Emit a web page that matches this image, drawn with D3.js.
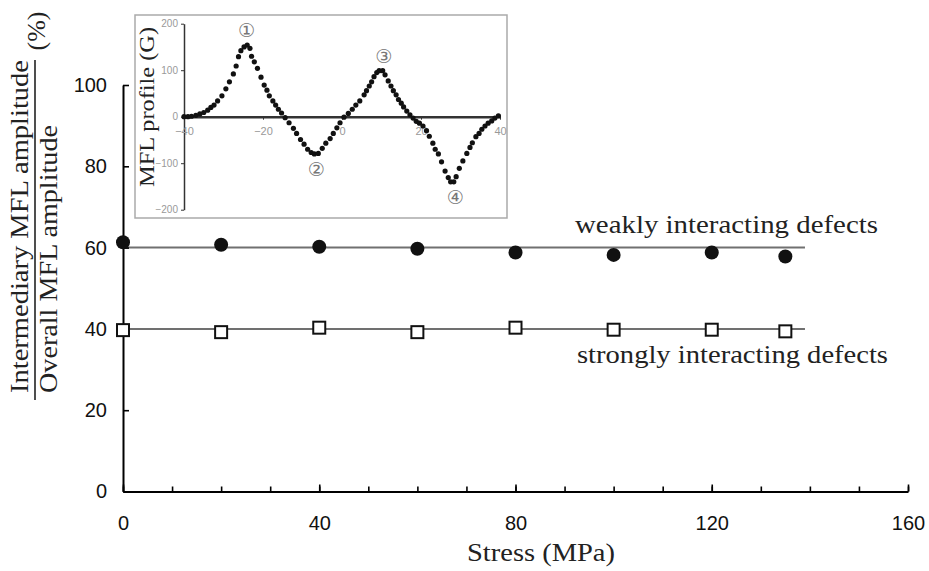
<!DOCTYPE html>
<html><head><meta charset="utf-8">
<script src="https://cdn.jsdelivr.net/npm/d3@7"></script>
<style>body{margin:0;background:#fff} svg{display:block}</style>
</head><body><svg id="c" width="929" height="571"></svg>
<script>
// ---- main chart data ----
const stress = [0, 20, 40, 60, 80, 100, 120, 135];
const weakly = [61.3, 60.7, 60.2, 59.7, 58.8, 58.2, 58.8, 57.8];
const strongly = [39.7, 39.2, 40.3, 39.2, 40.3, 39.8, 39.8, 39.4];
const refLevels = [60, 40];
const refRange = [0, 139];
const xMajorTicks = [0, 40, 80, 120, 160];
const xMinorTicks = [0, 10, 20, 30, 40, 50, 60, 70, 80, 90, 100, 110, 120, 130, 140, 150, 160];
const yTicks = [0, 20, 40, 60, 80, 100];
const seriesLabels = ["weakly interacting defects", "strongly interacting defects"];

// ---- inset data (MFL profile) ----
const insetX = [-40,-39,-38.1,-37,-36,-35,-34,-33.2,-32.4,-31.5,-30.4,-29.4,-28.5,-27.5,-26.8,-26.2,-25.6,-24.8,-24,-23.3,-22.9,-22.2,-21.4,-20.5,-19.7,-19,-18.4,-17.5,-16.8,-16.1,-15.3,-14.4,-13.4,-12.3,-11.5,-10.5,-9.6,-8.7,-7.8,-7,-6,-5,-4.1,-3,-2.2,-1.3,-0.5,0.5,1.6,2.6,3.5,4.5,5.6,6.2,6.9,7.5,8.1,8.8,9.4,10.3,10.9,11.7,12.4,13,13.7,14.3,15,15.6,16.4,17.2,18,18.8,19.6,20.5,21.4,22.1,23,23.6,24.4,25.2,26.1,26.9,27.5,28.3,28.9,29.7,30.6,31.6,32.4,33,33.9,34.7,35.4,36.2,37,37.9,38.7,39.6];
const insetY = [0,0,1,3,6,9,14,20,25,34,45,60,75,92,109,129,142,150,154,147,130,118,104,85,68,57,45,34,25,16,8,-2,-13,-25,-36,-49,-59,-70,-77,-80,-79,-68,-57,-47,-36,-24,-13,-1,7,16,25,34,47,56,66,75,86,95,99,99,90,77,66,56,47,37,29,21,12,4,-3,-10,-14,-20,-30,-42,-57,-70,-80,-97,-117,-131,-140,-140,-129,-111,-95,-79,-66,-56,-43,-36,-27,-20,-14,-9,-3,2];
const insetXTicks = [-40, -20, 0, 20, 40];
const insetYTicks = [-200, -100, 0, 100, 200];
const peakLabels = ["\u2460", "\u2461", "\u2462", "\u2463"];
const peakX = [-24.2, -6.5, 10.6, 28.7];
const peakY = [154, -80, 99, -140];
const peakSide = [1, -1, 1, -1];

const SERIF = "'Liberation Serif','Times New Roman',serif";
const SANS = "'Liberation Sans',Arial,sans-serif";

const svg = d3.select("#c");

// ---- main scales ----
const x = d3.scaleLinear().domain([0, 160]).range([123, 908]);
const y = d3.scaleLinear().domain([0, 100]).range([491.5, 85]);

// reference lines
svg.append("g").selectAll("line").data(refLevels).join("line")
  .attr("x1", x(refRange[0])).attr("x2", x(refRange[1]))
  .attr("y1", d => y(d)).attr("y2", d => y(d))
  .attr("stroke", "#707070").attr("stroke-width", 2);

// axes
const gx = svg.append("g").attr("transform", `translate(0,${y(0)})`);
gx.call(d3.axisBottom(x).tickValues(xMinorTicks).tickSizeInner(-5).tickSizeOuter(0).tickFormat(""));
const gx2 = svg.append("g").attr("transform", `translate(0,${y(0)})`);
gx2.call(d3.axisBottom(x).tickValues(xMajorTicks).tickSizeInner(-7).tickSizeOuter(0).tickPadding(24).tickFormat(d3.format("d")));
[gx, gx2].forEach(g => {
  g.selectAll(".domain").attr("stroke", "#000").attr("stroke-width", 2);
  g.selectAll(".tick line").attr("stroke", "#000").attr("stroke-width", 1.6);
  g.selectAll("text").style("font-family", SANS).attr("font-size", 20).attr("fill", "#111");
});
gx2.select(".domain").remove();

const gy = svg.append("g").attr("transform", `translate(${x(0)},0)`);
gy.call(d3.axisLeft(y).tickValues(yTicks).tickSizeInner(-6).tickSizeOuter(0).tickPadding(16).tickFormat(d3.format("d")));
gy.selectAll(".domain").attr("stroke", "#000").attr("stroke-width", 2);
gy.selectAll(".tick line").attr("stroke", "#000").attr("stroke-width", 1.6);
gy.selectAll("text").style("font-family", SANS).attr("font-size", 20).attr("fill", "#111");

// markers
svg.append("g").selectAll("circle").data(stress).join("circle")
  .attr("cx", d => x(d)).attr("cy", (d, i) => y(weakly[i]))
  .attr("r", 7).attr("fill", "#111");
svg.append("g").selectAll("rect").data(stress).join("rect")
  .attr("x", d => x(d) - 6).attr("y", (d, i) => y(strongly[i]) - 6)
  .attr("width", 12).attr("height", 12)
  .attr("fill", "#fff").attr("stroke", "#111").attr("stroke-width", 2);

// series labels
svg.append("text").attr("x", 575).attr("y", 233).text(seriesLabels[0])
  .style("font-family", SERIF).attr("font-size", 25).attr("fill", "#222")
  .attr("textLength", 303).attr("lengthAdjust", "spacingAndGlyphs");
svg.append("text").attr("x", 577).attr("y", 363).text(seriesLabels[1])
  .style("font-family", SERIF).attr("font-size", 25).attr("fill", "#222")
  .attr("textLength", 311).attr("lengthAdjust", "spacingAndGlyphs");

// x title
svg.append("text").attr("x", 541).attr("y", 561).attr("text-anchor", "middle")
  .text("Stress (MPa)").style("font-family", SERIF).attr("font-size", 26).attr("fill", "#222")
  .attr("textLength", 148).attr("lengthAdjust", "spacingAndGlyphs");

// y title (fraction)
const yt = svg.append("g");
yt.append("text").attr("transform", "translate(28,393) rotate(-90)")
  .text("Intermediary MFL amplitude").style("font-family", SERIF).attr("font-size", 26).attr("fill", "#222")
  .attr("textLength", 333).attr("lengthAdjust", "spacingAndGlyphs");
yt.append("line").attr("x1", 35).attr("x2", 35).attr("y1", 400).attr("y2", 60)
  .attr("stroke", "#222").attr("stroke-width", 1.6);
yt.append("text").attr("transform", "translate(57,393) rotate(-90)")
  .text("Overall MFL amplitude").style("font-family", SERIF).attr("font-size", 26).attr("fill", "#222")
  .attr("textLength", 268).attr("lengthAdjust", "spacingAndGlyphs");
yt.append("text").attr("transform", "translate(45,31) rotate(-90)").attr("text-anchor", "middle")
  .text("(%)").style("font-family", SERIF).attr("font-size", 26).attr("fill", "#222");

// ---- inset ----
const inset = svg.append("g");
inset.append("rect").attr("x", 135).attr("y", 15).attr("width", 372).attr("height", 203)
  .attr("fill", "#fff").attr("stroke", "#aaa").attr("stroke-width", 1.5);
const ix = d3.scaleLinear().domain([-40, 40]).range([184, 500]);
const iy = d3.scaleLinear().domain([-200, 200]).range([209.7, 23.7]);

const igy = inset.append("g").attr("transform", `translate(${ix(-40)},0)`);
igy.call(d3.axisLeft(iy).tickValues(insetYTicks).tickSizeInner(3).tickSizeOuter(0).tickPadding(3).tickFormat(d3.format("d")));
igy.select(".domain").attr("stroke", "#333").attr("stroke-width", 1.5);
igy.selectAll(".tick line").attr("stroke", "#333");
igy.selectAll("text").style("font-family", SANS).attr("font-size", 10).attr("fill", "#999");

const igx = inset.append("g").attr("transform", `translate(0,${iy(0)})`);
igx.call(d3.axisBottom(ix).tickValues(insetXTicks).tickSizeInner(3).tickSizeOuter(0).tickPadding(8).tickFormat(d3.format("d")));
igx.select(".domain").attr("stroke", "#333").attr("stroke-width", 2.5);
igx.selectAll(".tick line").attr("stroke", "#333");
igx.selectAll("text").style("font-family", SANS).attr("font-size", 11).attr("fill", "#999");

inset.append("g").selectAll("circle").data(insetX).join("circle")
  .attr("cx", d => ix(d)).attr("cy", (d, i) => iy(insetY[i]))
  .attr("r", 2.6).attr("fill", "#111");

inset.append("text").attr("transform", "translate(154,107) rotate(-90)").attr("text-anchor", "middle")
  .text("MFL profile (G)").style("font-family", SERIF).attr("font-size", 22).attr("fill", "#222")
  .attr("textLength", 160).attr("lengthAdjust", "spacingAndGlyphs");

inset.append("g").selectAll("text").data(peakLabels).join("text")
  .attr("x", (d, i) => ix(peakX[i]))
  .attr("y", (d, i) => iy(peakY[i]) - peakSide[i] * 15)
  .attr("text-anchor", "middle").attr("dominant-baseline", "central")
  .text(d => d).style("font-family", "'DejaVu Sans','Noto Sans CJK JP',sans-serif")
  .attr("font-size", 19).attr("fill", "#777");
</script></body></html>
